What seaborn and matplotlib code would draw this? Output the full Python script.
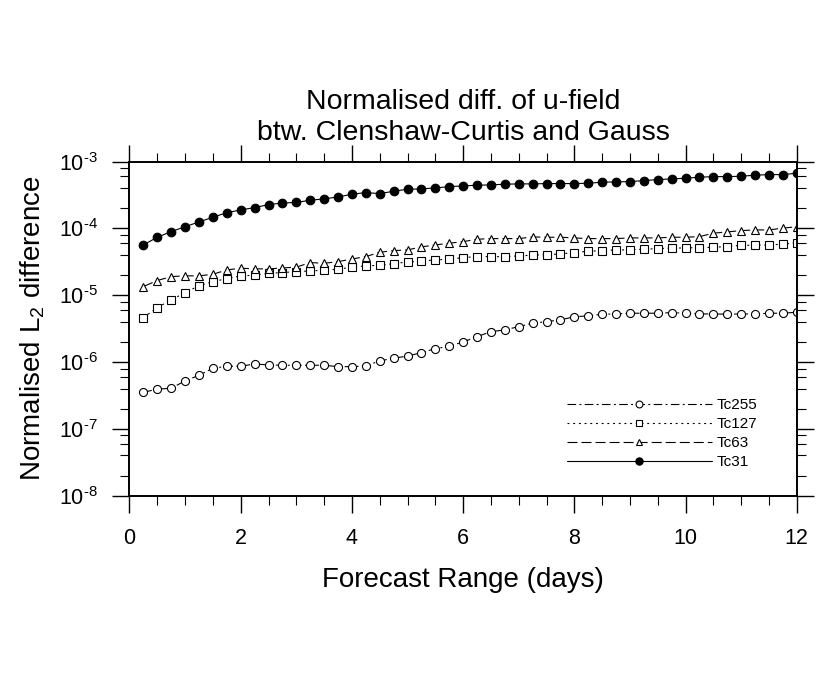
import numpy as np
import pandas as pd
import matplotlib
matplotlib.use("Agg")
import matplotlib.pyplot as plt
import matplotlib.ticker as mticker
import seaborn as sns

# forecast steps (days)
days = [0.25, 0.5, 0.75, 1.0, 1.25, 1.5, 1.75, 2.0, 2.25, 2.5, 2.75, 3.0,
        3.25, 3.5, 3.75, 4.0, 4.25, 4.5, 4.75, 5.0, 5.25, 5.5, 5.75, 6.0,
        6.25, 6.5, 6.75, 7.0, 7.25, 7.5, 7.75, 8.0, 8.25, 8.5, 8.75, 9.0,
        9.25, 9.5, 9.75, 10.0, 10.25, 10.5, 10.75, 11.0, 11.25, 11.5, 11.75, 12.0]

tc255 = [3.53e-7, 3.92e-7, 4.06e-7, 5.21e-7, 6.34e-7, 8.07e-7, 8.65e-7, 8.65e-7,
         9.37e-7, 9.05e-7, 8.95e-7, 8.95e-7, 8.95e-7, 8.95e-7, 8.53e-7, 8.53e-7,
         8.75e-7, 1.04e-6, 1.14e-6, 1.23e-6, 1.38e-6, 1.59e-6, 1.72e-6, 2.00e-6,
         2.40e-6, 2.85e-6, 3.03e-6, 3.39e-6, 3.81e-6, 4.03e-6, 4.27e-6, 4.78e-6,
         4.90e-6, 5.20e-6, 5.25e-6, 5.38e-6, 5.38e-6, 5.38e-6, 5.49e-6, 5.38e-6,
         5.25e-6, 5.25e-6, 5.20e-6, 5.25e-6, 5.25e-6, 5.38e-6, 5.38e-6, 5.57e-6]

tc127 = [4.62e-6, 6.52e-6, 8.51e-6, 1.09e-5, 1.39e-5, 1.60e-5, 1.77e-5, 1.95e-5,
         1.99e-5, 2.13e-5, 2.18e-5, 2.26e-5, 2.31e-5, 2.37e-5, 2.45e-5, 2.63e-5,
         2.75e-5, 2.81e-5, 2.97e-5, 3.15e-5, 3.23e-5, 3.38e-5, 3.46e-5, 3.66e-5,
         3.78e-5, 3.78e-5, 3.78e-5, 3.88e-5, 3.97e-5, 4.05e-5, 4.15e-5, 4.34e-5,
         4.56e-5, 4.65e-5, 4.77e-5, 4.77e-5, 4.89e-5, 4.99e-5, 5.06e-5, 5.11e-5,
         5.16e-5, 5.23e-5, 5.34e-5, 5.60e-5, 5.60e-5, 5.66e-5, 5.80e-5, 6.13e-5]

tc63 = [1.35e-5, 1.66e-5, 1.90e-5, 1.95e-5, 1.95e-5, 2.06e-5, 2.39e-5, 2.54e-5,
        2.48e-5, 2.48e-5, 2.56e-5, 2.63e-5, 3.08e-5, 3.01e-5, 3.18e-5, 3.49e-5,
        3.78e-5, 4.40e-5, 4.65e-5, 4.77e-5, 5.29e-5, 5.66e-5, 6.00e-5, 6.34e-5,
        6.89e-5, 7.04e-5, 7.04e-5, 7.04e-5, 7.46e-5, 7.38e-5, 7.38e-5, 7.21e-5,
        7.04e-5, 7.04e-5, 7.04e-5, 7.21e-5, 7.21e-5, 7.21e-5, 7.38e-5, 7.38e-5,
        7.54e-5, 8.48e-5, 8.87e-5, 9.27e-5, 9.50e-5, 9.50e-5, 1.01e-4, 1.06e-4]

tc31 = [5.66e-5, 7.38e-5, 8.95e-5, 1.06e-4, 1.25e-4, 1.47e-4, 1.72e-4, 1.89e-4,
        2.05e-4, 2.27e-4, 2.40e-4, 2.45e-4, 2.64e-4, 2.77e-4, 2.96e-4, 3.25e-4,
        3.44e-4, 3.32e-4, 3.60e-4, 3.86e-4, 3.90e-4, 4.04e-4, 4.22e-4, 4.33e-4,
        4.43e-4, 4.48e-4, 4.59e-4, 4.64e-4, 4.64e-4, 4.69e-4, 4.69e-4, 4.69e-4,
        4.75e-4, 4.92e-4, 4.97e-4, 5.02e-4, 5.20e-4, 5.38e-4, 5.51e-4, 5.64e-4,
        5.84e-4, 5.96e-4, 5.96e-4, 6.04e-4, 6.26e-4, 6.39e-4, 6.39e-4, 6.70e-4]

labels = ["Tc255", "Tc127", "Tc63", "Tc31"]

sns.set_style("ticks")
plt.rcParams["font.family"] = ["Liberation Sans", "DejaVu Sans"]
plt.rcParams["mathtext.fontset"] = "custom"
plt.rcParams["mathtext.rm"] = "Liberation Sans"
plt.rcParams["mathtext.it"] = "Liberation Sans:italic"
plt.rcParams["mathtext.bf"] = "Liberation Sans:bold"
plt.rcParams["lines.scale_dashes"] = False
for key in ["text.color", "axes.labelcolor", "xtick.color", "ytick.color"]:
    plt.rcParams[key] = "black"

fig, ax = plt.subplots(figsize=(8.3, 6.79), dpi=100)
fig.subplots_adjust(left=0.156, right=0.960, bottom=0.270, top=0.762)

# marker, face colour, marker size, dash pattern
styles = {
    "Tc255": ("o", "white", 5.8, (0, (6.2, 2.4, 1.4, 2.4))),
    "Tc127": ("s", "white", 5.3, (0, (1.4, 2.7))),
    "Tc63": ("^", "white", 5.8, (0, (7.2, 2.9))),
    "Tc31": ("o", "black", 6.2, "-"),
}

for lab, vals in zip(labels, [tc255, tc127, tc63, tc31]):
    mk, fc, ms, ls = styles[lab]
    sns.lineplot(x=days, y=vals, ax=ax, marker=mk, markersize=ms,
                 markerfacecolor=fc, markeredgecolor="black", markeredgewidth=0.8,
                 color="black", linewidth=0.8, linestyle=ls, label=lab)

ax.set_yscale("log")
ax.set_xlim(0, 12)
ax.set_ylim(1e-8, 1e-3)
ax.xaxis.set_major_locator(mticker.MultipleLocator(2))
ax.xaxis.set_minor_locator(mticker.MultipleLocator(0.5))
ax.yaxis.set_major_locator(mticker.LogLocator(base=10, numticks=10))
ax.yaxis.set_minor_locator(mticker.LogLocator(base=10, subs=(2, 4, 6, 8), numticks=10))
ax.yaxis.set_minor_formatter(mticker.NullFormatter())
ax.yaxis.set_major_formatter(mticker.FuncFormatter(
    lambda v, pos: r"$10^{\text{-}%d}$" % round(-np.log10(v))))

ax.tick_params(which="both", direction="out", top=True, right=True,
               labeltop=False, labelright=False, colors="black")
ax.tick_params(which="major", length=12, width=1.0, labelsize=15.5, pad=11)
ax.tick_params(which="minor", length=6.5, width=0.8)
for sp in ax.spines.values():
    sp.set_color("black")
    sp.set_linewidth(1.4)

ax.set_xlabel("Forecast Range (days)", fontsize=20, labelpad=13)
ax.set_ylabel("Normalised L$_2$ difference", fontsize=20, labelpad=8)
ax.set_title("Normalised diff. of u-field\nbtw. Clenshaw-Curtis and Gauss",
             fontsize=20.5, y=1.023, va="bottom", linespacing=1.24)

ax.legend(loc="upper left", bbox_to_anchor=(0.655, 0.291), frameon=False,
          fontsize=11, handlelength=9.5, handletextpad=0.3, labelspacing=0.32,
          borderpad=0, borderaxespad=0, markerscale=0.85)

plt.savefig("out.png", dpi=100)
